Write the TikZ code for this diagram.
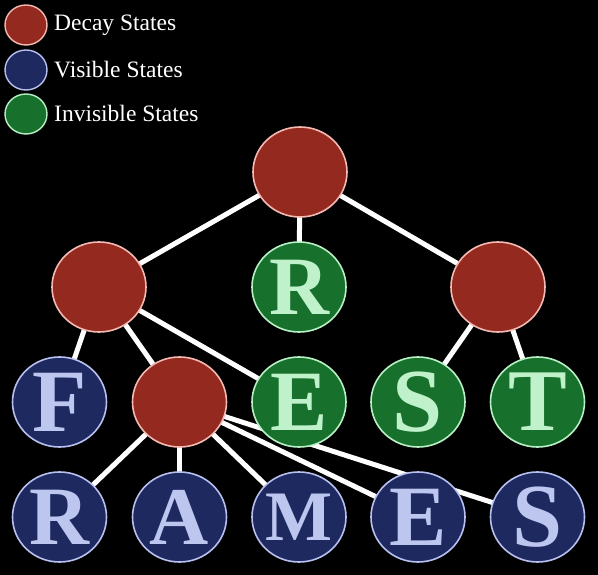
\documentclass[tikz,border=0pt]{standalone}
\usepackage{fontspec}
\setmainfont{Liberation Serif}
\usetikzlibrary{shapes.geometric}
\definecolor{decayfill}{HTML}{93291F}
\definecolor{decayline}{HTML}{F4B9B2}
\definecolor{visfill}{HTML}{1E2960}
\definecolor{visline}{HTML}{B7C0EE}
\definecolor{vistext}{HTML}{BCC6EE}
\definecolor{invfill}{HTML}{17702B}
\definecolor{invline}{HTML}{B8F0C5}
\definecolor{invtext}{HTML}{BFF2CA}
\tikzset{
  state/.style={ellipse, minimum width=94pt, minimum height=90pt, inner sep=0pt, line width=1.6pt},
  decay/.style={state, fill=decayfill, draw=decayline},
  vis/.style 2 args={state, fill=visfill, draw=visline, label={[text=vistext, inner sep=0pt, font=\fontsize{#2}{#2}\selectfont\bfseries]center:#1}},
  inv/.style 2 args={state, fill=invfill, draw=invline, label={[text=invtext, inner sep=0pt, font=\fontsize{#2}{#2}\selectfont\bfseries]center:#1}},
  legdot/.style={ellipse, minimum width=42pt, minimum height=40pt, inner sep=0pt, line width=1.4pt},
  legtext/.style={anchor=base west, text=white, font=\fontsize{23.5}{24}\selectfont, inner sep=0pt},
  link/.style={draw=white, line width=5pt}
}
\begin{document}
\begin{tikzpicture}[x=1pt,y=-1pt]
\fill[black] (0,0) rectangle (598,575);
\useasboundingbox (0,0) rectangle (598,575);
% legend
\node[legdot, fill=decayfill, draw=decayline] (ld) at (26,25) {};
\node[legdot, fill=visfill, draw=visline] (lv) at (26,70) {};
\node[legdot, fill=invfill, draw=invline] (li) at (26,114) {};
\node[legtext] (tld) at (54,31) {Decay States};
\node[legtext] (tlv) at (54,78) {Visible States};
\node[legtext] (tli) at (54,122) {Invisible States};
% edges (behind nodes)
\coordinate (croot) at (300,172);
\coordinate (cdl) at (99,287);
\coordinate (cr1) at (299,287);
\coordinate (cdr) at (498,287);
\coordinate (cf) at (59.5,402);
\coordinate (cdm) at (179.5,402);
\coordinate (ce1) at (299,402);
\coordinate (cs1) at (418,402);
\coordinate (ct1) at (537.5,402);
\coordinate (cr2) at (59.5,517);
\coordinate (ca2) at (179.5,517);
\coordinate (cm2) at (299,517);
\coordinate (ce2) at (418,517);
\coordinate (cs2) at (537.5,517);
\draw[link] (croot) -- (cdl);
\draw[link] (croot) -- (cr1);
\draw[link] (croot) -- (cdr);
\draw[link] (cdl) -- (cf);
\draw[link] (cdl) -- (cdm);
\draw[link] (cdl) -- (ce1);
\draw[link] (cdr) -- (cs1);
\draw[link] (cdr) -- (ct1);
\draw[link] (cdm) -- (cr2);
\draw[link] (cdm) -- (ca2);
\draw[link] (cdm) -- (cm2);
\draw[link] (cdm) -- (ce2);
\draw[link] (cdm) -- (cs2);
% nodes
\node[decay] (root) at (croot) {};
\node[decay] (dl) at (cdl) {};
\node[inv={R}{83}] (r1) at (cr1) {};
\node[decay] (dr) at (cdr) {};
\node[vis={F}{89}] (f) at (cf) {};
\node[decay] (dm) at (cdm) {};
\node[inv={E}{86}] (e1) at (ce1) {};
\node[inv={S}{90}] (s1) at (cs1) {};
\node[inv={T}{88}] (t1) at (ct1) {};
\node[vis={R}{83}] (r2) at (cr2) {};
\node[vis={A}{82}] (a2) at (ca2) {};
\node[vis={M}{71}] (m2) at (cm2) {};
\node[vis={E}{86}] (e2) at (ce2) {};
\node[vis={S}{90}] (s2) at (cs2) {};
\end{tikzpicture}
\end{document}
